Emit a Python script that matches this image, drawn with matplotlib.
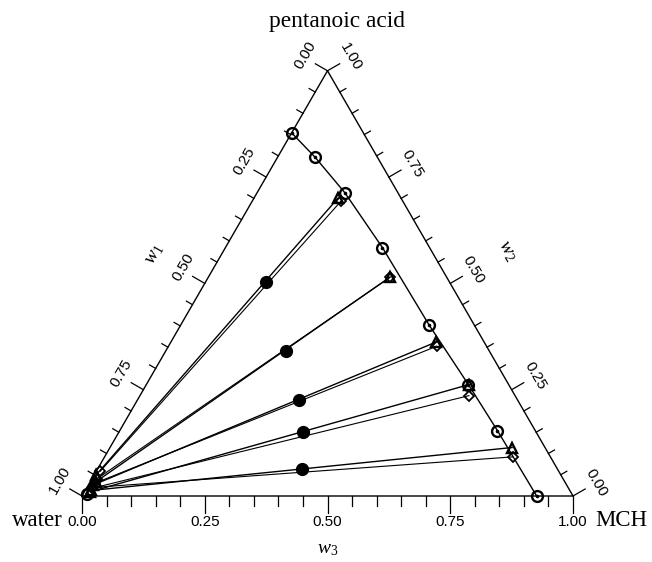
import numpy as np
import matplotlib
matplotlib.use("Agg")
import matplotlib.pyplot as plt

plt.rcParams['font.family'] = ['Liberation Sans', 'DejaVu Sans']
plt.rcParams['mathtext.fontset'] = 'custom'
plt.rcParams['mathtext.rm'] = 'Liberation Serif'
plt.rcParams['mathtext.it'] = 'Liberation Serif:italic'

# ---- data (w2 = pentanoic acid, w3 = MCH, w1 = water) ----
binodal_w2 = [0.005, 0.854, 0.797, 0.713, 0.584, 0.402, 0.262, 0.154, 0.0]
binodal_w3 = [0.008, 0.0, 0.076, 0.179, 0.320, 0.506, 0.656, 0.769, 0.926]

exp_org_w2 = [0.700, 0.515, 0.362, 0.262, 0.114]
exp_org_w3 = [0.171, 0.370, 0.540, 0.657, 0.819]
exp_aq_w2 = [0.050, 0.034, 0.026, 0.010, 0.013]
exp_aq_w3 = [0.004, 0.012, 0.010, 0.012, 0.012]

calc_org_w2 = [0.694, 0.514, 0.352, 0.236, 0.092]
calc_org_w3 = [0.181, 0.370, 0.546, 0.670, 0.831]
calc_aq_w2 = [0.058, 0.040, 0.030, 0.018, 0.020]
calc_aq_w3 = [0.008, 0.010, 0.011, 0.011, 0.012]

feed_w2 = [0.503, 0.341, 0.226, 0.151, 0.064]
feed_w3 = [0.123, 0.245, 0.329, 0.375, 0.416]

tick_values = [0.00, 0.25, 0.50, 0.75, 1.00]

S = np.sqrt(3) / 2


def cart(w2, w3):
    w2 = np.asarray(w2, float)
    w3 = np.asarray(w3, float)
    return w3 + w2 / 2, w2 * S


fig = plt.figure(figsize=(6.52, 5.62), dpi=100)
ax = fig.add_axes([0, 0, 1, 1])
ax.set_xlim(-82 / 491, (652 - 82) / 491)
ax.set_ylim((496 - 562) / 491, 496 / 491)
ax.axis('off')

# triangle frame
ax.plot([0, 1, 0.5, 0], [0, 0, S, 0], color='black', lw=1.0)

# ticks
minor_len = 7 / 491
major_len = 14 / 491
lab_off = 27 / 491
for i in range(21):
    v = i * 0.05
    major = (i % 5 == 0)
    ln = major_len if major else minor_len
    # bottom (w3)
    bx, by = v, 0
    ax.plot([bx, bx], [by, by - (ln + 3 / 491)], color='black', lw=0.9)
    # left (w1)
    lx, ly = 0.5 * (1 - v), (1 - v) * S
    nx, ny = -S, 0.5
    ax.plot([lx, lx + nx * ln], [ly, ly + ny * ln], color='black', lw=0.9)
    # right (w2)
    rx, ry = 1 - v / 2, v * S
    mx, my = S, 0.5
    ax.plot([rx, rx + mx * ln], [ry, ry + my * ln], color='black', lw=0.9)

fs_tick = 11
for v in tick_values:
    s = f"{v:.2f}"
    ax.text(v, -26 / 491, s, ha='center', va='center', fontsize=fs_tick)
    lx, ly = 0.5 * (1 - v), (1 - v) * S
    ax.text(lx - S * lab_off + 0.5 * 3 / 491, ly + 0.5 * lab_off + S * 3 / 491, s,
            ha='center', va='center', fontsize=fs_tick, rotation=60,
            rotation_mode='anchor')
    rx, ry = 1 - v / 2, v * S
    ax.text(rx + S * lab_off, ry + 0.5 * lab_off, s, ha='center', va='center',
            fontsize=fs_tick, rotation=-60, rotation_mode='anchor')

# axis labels
ax.text(0.25 - S * 58 / 491, 0.5 * S + 0.5 * 58 / 491, r'$w_1$', fontsize=14,
        rotation=60, ha='center', va='center', rotation_mode='anchor')
ax.text(0.75 + S * 65 / 491, 0.5 * S + 0.5 * 65 / 491, r'$w_2$', fontsize=14,
        rotation=-60, ha='center', va='center', rotation_mode='anchor')
ax.text(0.5, -53 / 491, r'$w_3$', fontsize=14, ha='center', va='center')

# vertex labels
ax.text((337 - 82) / 491, (496 - 21) / 491, 'pentanoic acid', fontsize=16.8,
        family='Liberation Serif', ha='center', va='center')
ax.text((37 - 82) / 491, -25 / 491, 'water', fontsize=16.5, family='Liberation Serif',
        ha='center', va='center')
ax.text((621 - 82) / 491, -25 / 491, 'MCH', fontsize=16.5, family='Liberation Serif',
        ha='center', va='center')

# binodal curve (organic branch)
bx, by = cart(binodal_w2[1:], binodal_w3[1:])
ax.plot(bx, by, color='black', lw=1.0, zorder=3)
allbx, allby = cart(binodal_w2, binodal_w3)
ax.plot(allbx, allby, ls='none', marker='o', ms=7.8, mfc='none', mec='black',
        mew=1.7, zorder=5)
ax.plot(allbx, allby, ls='none', marker='o', ms=1.6, color='black', zorder=5)

# tie lines
for i in range(len(exp_org_w2)):
    x, y = cart([exp_aq_w2[i], exp_org_w2[i]], [exp_aq_w3[i], exp_org_w3[i]])
    ax.plot(x, y, color='black', lw=1.0, marker='^', ms=7.5, mfc='none', mec='black',
            mew=1.7, zorder=4)
    x, y = cart([calc_aq_w2[i], calc_org_w2[i]], [calc_aq_w3[i], calc_org_w3[i]])
    ax.plot(x, y, color='black', lw=0.8, marker='D', ms=5.5, mfc='none', mec='black',
            mew=1.3, zorder=4)

fx, fy = cart(feed_w2, feed_w3)
ax.plot(fx, fy, ls='none', marker='o', ms=8.5, color='black', zorder=6)

fig.savefig('out.png', dpi=100)
